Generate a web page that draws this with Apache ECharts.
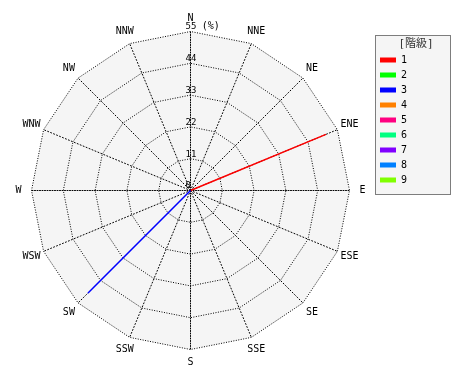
<!DOCTYPE html>
<html>
<head>
<meta charset="utf-8">
<script src="https://cdn.jsdelivr.net/npm/echarts@6/dist/echarts.min.js"></script>
<style>
html,body{margin:0;padding:0;background:#fff;}
#chart{width:470px;height:380px;}
</style>
</head>
<body>
<div id="chart"></div>
<script>
// ---- data ----
const directions = ['N','NNE','NE','ENE','E','ESE','SE','SSE','S','SSW','SW','WSW','W','WNW','NW','NNW'];
const tickValues = [0, 11, 22, 33, 44, 55];
const unitLabel = '(%)';
const legendTitle = '[階級]';
const classNames = ['1','2','3','4','5','6','7','8','9'];
const classColors = ['#ff0000','#00ff00','#0000ff','#ff8000','#ff0080','#00ff80','#8000ff','#0080ff','#80ff00'];
const class1 = [0,0,0,50.5,0,0,0,0,0,0,0,0,0,0,0,0];
const class2 = [0,0,0,0,0,0,0,0,0,0,0,0,0,0,0,0];
const class3 = [0,0,0,0,0,0,0,0,0,0,50,0,0,0,0,0];
const class4 = [0,0,0,0,0,0,0,0,0,0,0,0,0,0,0,0];
const class5 = [0,0,0,0,0,0,0,0,0,0,0,0,0,0,0,0];
const class6 = [0,0,0,0,0,0,0,0,0,0,0,0,0,0,0,0];
const class7 = [0,0,0,0,0,0,0,0,0,0,0,0,0,0,0,0];
const class8 = [0,0,0,0,0,0,0,0,0,0,0,0,0,0,0,0];
const class9 = [0,0,0,0,0,0,0,0,0,0,0,0,0,0,0,0];
const classValues = [class1,class2,class3,class4,class5,class6,class7,class8,class9];

// ---- layout ----
const CX = 190.5, CY = 190.5, RADIUS = 159, LABEL_R = 172;
const MONO = '"DejaVu Sans Mono", "Liberation Mono", monospace';
const DOT = [1, 1.5];
const DOT_DIAG = [1, 2.2];

// radar goes counter-clockwise; reorder so directions run clockwise from N
const order = directions.map((_, i) => (directions.length - i) % directions.length);
const maxV = tickValues[tickValues.length - 1];

const indicator = order.map((k, j) => {
  const ortho = k % 4 === 0;
  const ind = {
    name: directions[k], min: tickValues[0], max: maxV,
    axisLine: { show: true, lineStyle: { color: '#000', type: ortho ? DOT : DOT_DIAG, width: 1 } }
  };
  if (j === 0) {
    ind.axisLabel = {
      show: true,
      color: '#000',
      fontFamily: MONO,
      fontSize: 9,
      margin: 5,
      verticalAlign: 'bottom',
      align: 'left',
      formatter: v => (v === maxV ? v + ' {u|' + unitLabel + '}' : String(v)),
      rich: { u: { fontFamily: MONO, fontSize: 10, color: '#000', verticalAlign: 'bottom' } }
    };
  } else {
    ind.axisLabel = { show: false };
  }
  return ind;
});

const dirLabels = directions.map((d, i) => {
  const a = i * 2 * Math.PI / directions.length;
  return {
    type: 'text',
    x: CX + LABEL_R * Math.sin(a),
    y: CY - LABEL_R * Math.cos(a),
    style: {
      text: d, fill: '#000', font: '10px ' + MONO,
      align: 'center', verticalAlign: 'middle'
    },
    silent: true
  };
});

const chart = echarts.init(document.getElementById('chart'), null, { renderer: 'canvas' });
chart.setOption({
  backgroundColor: '#ffffff',
  animation: false,
  radar: {
    center: [CX, CY],
    radius: RADIUS,
    startAngle: 90,
    shape: 'polygon',
    splitNumber: tickValues.length - 1,
    indicator: indicator,
    axisName: { show: false },
    axisTick: { show: false },
    splitLine: { lineStyle: { color: '#000', type: DOT, width: 1 } },
    splitArea: { show: true, areaStyle: { color: ['#f5f5f5'] } }
  },
  legend: {
    data: classNames,
    orient: 'vertical',
    left: 380,
    top: 55,
    padding: 0,
    itemWidth: 16,
    itemHeight: 5,
    itemGap: 5,
    icon: 'rect',
    selectedMode: false,
    textStyle: { color: '#000', fontFamily: MONO, fontSize: 10 }
  },
  graphic: [
    {
      type: 'rect', z: -1,
      shape: { x: 375.5, y: 35.5, width: 75, height: 159 },
      style: { fill: '#f5f5f5', stroke: '#000', lineWidth: 1, lineDash: [1, 1] },
      silent: true
    },
    {
      type: 'text',
      x: 416, y: 44,
      style: {
        text: legendTitle, fill: '#333',
        font: '11px "DejaVu Sans Mono", "Noto Sans CJK JP", monospace',
        align: 'center', verticalAlign: 'middle'
      },
      silent: true
    }
  ].concat(dirLabels),
  series: [{
    type: 'radar',
    symbol: 'none',
    silent: true,
    data: classNames.map((n, i) => ({
      name: n,
      value: order.map(k => classValues[i][k]),
      itemStyle: { color: classColors[i] },
      lineStyle: { color: classColors[i], width: 1.5 }
    }))
  }]
});
</script>
</body>
</html>
